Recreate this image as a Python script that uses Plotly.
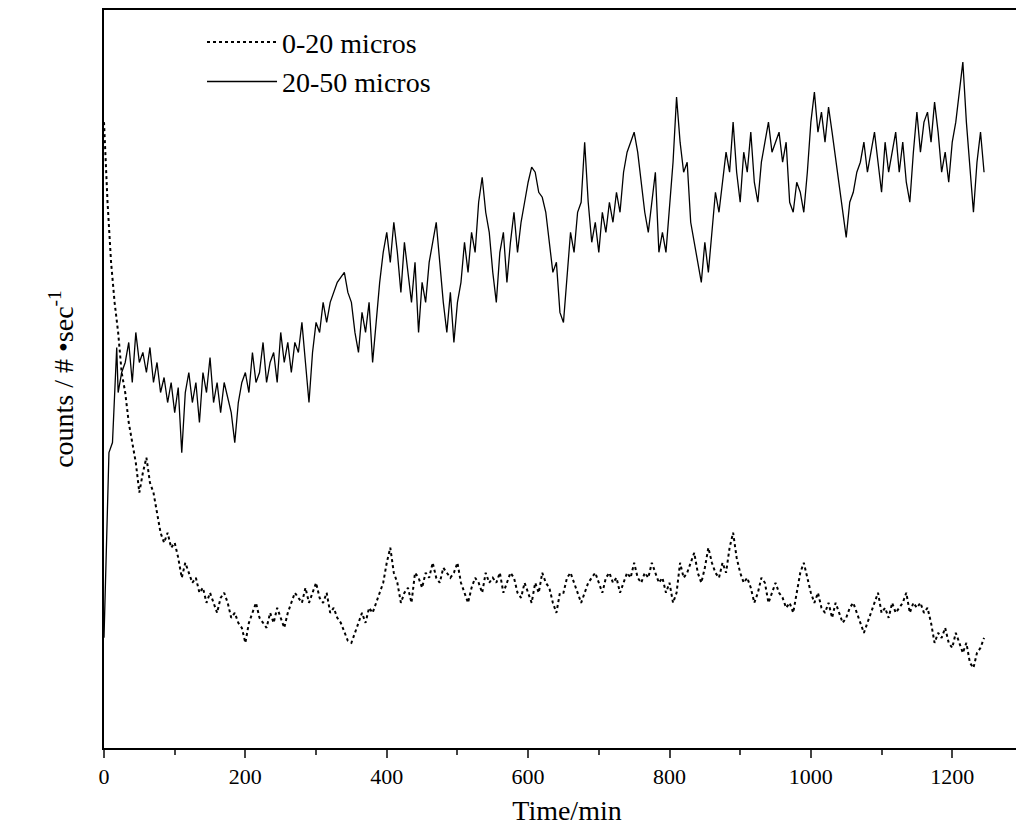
import plotly.graph_objects as go

# readings are plotted on an inverted, unlabelled count axis (top = high counts)
solid_t = [0, 3, 7, 12, 15, 18, 20, 25, 30, 35, 40, 45, 50, 55, 60, 65, 70, 75, 80, 85, 90, 95, 100, 105, 110, 115, 120, 125, 130, 135, 140, 145, 150, 155, 160, 165, 170, 175, 180, 185, 190, 195, 200, 205, 210, 215, 220, 225, 230, 235, 240, 245, 250, 255, 260, 265, 270, 275, 280, 285, 290, 295, 300, 305, 310, 315, 320, 330, 340, 345, 350, 355, 360, 365, 370, 375, 380, 385, 390, 395, 400, 405, 410, 415, 420, 425, 430, 435, 440, 445, 450, 455, 460, 465, 470, 475, 480, 485, 490, 495, 500, 505, 510, 515, 520, 525, 530, 535, 540, 545, 550, 555, 560, 565, 570, 575, 580, 585, 590, 595, 600, 605, 610, 615, 620, 625, 630, 635, 640, 645, 650, 655, 660, 665, 670, 675, 680, 685, 690, 695, 700, 705, 710, 715, 720, 725, 730, 735, 740, 745, 750, 755, 760, 765, 770, 775, 780, 785, 790, 795, 800, 805, 810, 815, 820, 825, 830, 835, 840, 845, 850, 855, 860, 865, 870, 875, 880, 885, 890, 895, 900, 905, 910, 915, 920, 925, 930, 935, 940, 945, 950, 955, 960, 965, 970, 975, 980, 985, 990, 995, 1000, 1005, 1010, 1015, 1020, 1025, 1030, 1035, 1040, 1045, 1050, 1055, 1060, 1065, 1070, 1075, 1080, 1085, 1090, 1095, 1100, 1105, 1110, 1115, 1120, 1125, 1130, 1135, 1140, 1145, 1150, 1155, 1160, 1165, 1170, 1175, 1180, 1185, 1190, 1195, 1200, 1205, 1210, 1215, 1220, 1225, 1230, 1235, 1240, 1245]
solid_v = [635, 560, 450, 440, 390, 345, 390, 370, 360, 340, 380, 330, 360, 350, 370, 345, 380, 360, 390, 375, 400, 380, 410, 385, 450, 390, 370, 400, 380, 420, 370, 390, 355, 400, 380, 410, 380, 395, 410, 440, 400, 380, 370, 390, 350, 380, 370, 340, 380, 360, 350, 380, 330, 360, 340, 370, 340, 350, 320, 360, 400, 350, 320, 330, 300, 320, 300, 280, 270, 290, 300, 330, 350, 310, 330, 300, 360, 320, 280, 250, 230, 260, 220, 250, 290, 240, 270, 300, 260, 330, 280, 300, 260, 240, 220, 260, 300, 330, 290, 340, 300, 280, 240, 270, 230, 250, 200, 175, 210, 230, 270, 300, 250, 230, 280, 240, 210, 250, 220, 200, 180, 165, 170, 190, 195, 210, 240, 270, 260, 310, 320, 270, 230, 250, 210, 200, 140, 200, 240, 220, 250, 210, 230, 200, 220, 190, 210, 170, 150, 140, 130, 150, 180, 210, 230, 200, 170, 250, 230, 250, 200, 160, 95, 140, 170, 160, 220, 240, 260, 280, 240, 270, 230, 190, 210, 180, 150, 170, 120, 170, 200, 150, 170, 130, 180, 200, 160, 140, 120, 150, 140, 130, 160, 140, 200, 210, 180, 190, 210, 170, 120, 90, 130, 110, 140, 105, 130, 155, 180, 210, 235, 200, 190, 170, 160, 140, 170, 150, 130, 160, 190, 140, 170, 150, 130, 170, 140, 180, 200, 150, 110, 150, 120, 110, 140, 100, 130, 170, 150, 180, 140, 120, 90, 60, 120, 170, 210, 160, 130, 170]

dot_t = list(range(0, 1250, 5))
dot_v = [120, 200, 260, 300, 330, 370, 390, 420, 440, 460, 490, 470, 455, 480, 490, 510, 530, 540, 530, 545, 540, 555, 575, 560, 570, 580, 575, 590, 585, 600, 590, 600, 610, 595, 590, 600, 615, 610, 620, 625, 640, 620, 610, 600, 615, 620, 625, 610, 620, 605, 615, 625, 610, 600, 590, 595, 600, 585, 600, 590, 580, 595, 600, 590, 610, 605, 615, 620, 630, 638, 640, 630, 620, 610, 620, 605, 610, 600, 590, 580, 560, 545, 570, 580, 600, 590, 585, 600, 570, 575, 585, 570, 575, 560, 575, 580, 565, 570, 575, 570, 560, 580, 590, 600, 585, 575, 580, 590, 570, 580, 575, 580, 570, 590, 580, 570, 575, 590, 595, 580, 590, 600, 580, 590, 570, 580, 585, 600, 610, 590, 590, 575, 570, 580, 590, 600, 590, 580, 575, 570, 580, 590, 575, 570, 580, 575, 590, 580, 570, 575, 560, 575, 580, 570, 575, 560, 570, 580, 575, 590, 580, 600, 590, 560, 575, 570, 560, 550, 570, 580, 565, 545, 560, 570, 575, 560, 570, 545, 530, 555, 570, 580, 575, 585, 600, 590, 575, 580, 600, 590, 580, 590, 595, 605, 600, 610, 590, 570, 560, 575, 590, 600, 590, 605, 610, 600, 615, 600, 610, 620, 615, 605, 600, 610, 620, 630, 620, 610, 600, 590, 610, 605, 615, 600, 610, 605, 600, 590, 610, 600, 605, 600, 610, 605, 620, 640, 630, 635, 625, 640, 645, 630, 640, 650, 640, 660, 665, 650, 645, 635]

x_ticks = [0, 200, 400, 600, 800, 1000, 1200]

font = "Liberation Serif"
fig = go.Figure()
fig.add_trace(go.Scatter(x=dot_t, y=dot_v, mode="lines", name="0-20 micros",
                         line=dict(color="black", width=2, dash="dot")))
fig.add_trace(go.Scatter(x=solid_t, y=solid_v, mode="lines", name="20-50 micros",
                         line=dict(color="black", width=1.3)))

fig.update_layout(
    width=1024, height=840,
    margin=dict(l=96, r=0, t=1, b=100),
    plot_bgcolor="white", paper_bgcolor="white",
    font=dict(family=font, color="black", size=22),
    legend=dict(orientation="h", x=0.13, xanchor="left", y=0.99, yanchor="top",
                font=dict(size=28), bgcolor="rgba(0,0,0,0)", itemwidth=70,
                entrywidth=330),
    showlegend=True,
)
fig.update_xaxes(range=[0, 1310], tickvals=x_ticks, ticks="outside", ticklen=8, tickwidth=2,
                 minor=dict(dtick=100, ticks="outside", ticklen=5, tickwidth=1.5),
                 showgrid=False, zeroline=False, showline=True, linecolor="black", linewidth=2,
                 mirror=True, title=dict(text="Time/min", font=dict(size=28), standoff=12))
fig.update_yaxes(range=[745, 8], showticklabels=False, ticks="", showgrid=False, zeroline=False,
                 showline=True, linecolor="black", linewidth=2, mirror=True,
                 title=dict(text="counts / # \u2022sec<sup>-1</sup>", font=dict(size=28), standoff=20))

fig.write_html("out.html")
